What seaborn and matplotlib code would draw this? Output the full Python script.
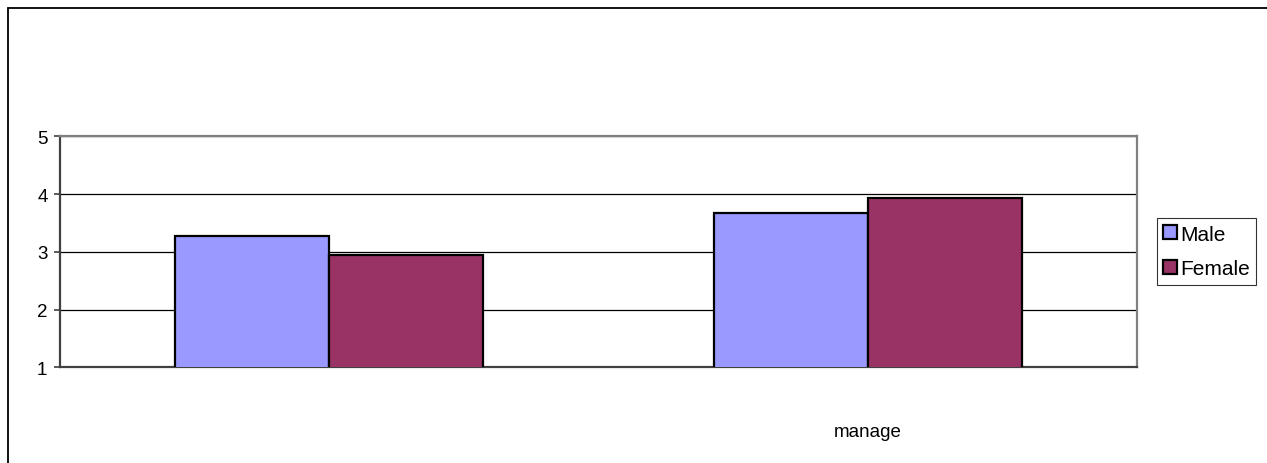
import matplotlib
matplotlib.use("Agg")
import matplotlib.pyplot as plt
from matplotlib.lines import Line2D
from matplotlib.patches import Patch
import seaborn as sns
import pandas as pd

# data
categories = ["", "manage"]
genders = ["Male", "Female"]
male_vals = [3.27, 3.68]
female_vals = [2.94, 3.93]
y_ticks = [1, 2, 3, 4, 5]

colors = {"Male": "#9999FF", "Female": "#993366"}

df = pd.DataFrame({
    "category": categories * 2,
    "gender": ["Male"] * len(categories) + ["Female"] * len(categories),
    "value": male_vals + female_vals,
})

sns.set_style("white")
plt.rcParams["font.family"] = ["Liberation Sans", "DejaVu Sans"]
plt.rcParams["text.color"] = "black"
plt.rcParams["xtick.labelcolor"] = "black"
plt.rcParams["ytick.labelcolor"] = "black"

W, H = 1267, 464
fig = plt.figure(figsize=(W / 100, H / 100), dpi=100)
ax = fig.add_axes([60 / W, 1 - 368.3 / H, (1137 - 60) / W, (368.3 - 137.3) / H])

sns.barplot(data=df, x="category", y="value", hue="gender", order=categories,
            hue_order=genders, palette=colors, width=0.572, ax=ax,
            edgecolor="black", linewidth=1.6, saturation=1, legend=False,
            errorbar=None, zorder=3)

ax.set_ylim(1, 5)
ax.set_xlim(-0.5, 1.5)
ax.set_yticks(y_ticks)
ax.yaxis.grid(True, color="black", linewidth=0.9, zorder=0)
ax.set_axisbelow(True)
ax.set_xlabel("")
ax.set_ylabel("")

# category labels, with boundary ticks between groups
ax.set_xticks([0, 1])
ax.set_xticklabels(categories)
ax.tick_params(axis="x", which="major", length=0, pad=40, labelsize=13.5)
ax.set_xticks([-0.5, 0.5, 1.5], minor=True)
ax.tick_params(axis="x", which="minor", length=4, width=1.2, color="#202020", direction="out")
ax.tick_params(axis="y", length=4, width=1.2, color="#404040", direction="out",
               labelsize=13.5, pad=5, left=True)

for side in ["top", "right"]:
    ax.spines[side].set_color("#808080")
    ax.spines[side].set_linewidth(1.6)
for side in ["left", "bottom"]:
    ax.spines[side].set_color("#404040")
    ax.spines[side].set_linewidth(1.6)
    ax.spines[side].set_visible(True)
ax.spines["top"].set_visible(True)
ax.spines["right"].set_visible(True)

handles = [Patch(facecolor=colors[g], edgecolor="black", linewidth=1.6) for g in genders]
leg = fig.legend(handles, genders, loc="center left",
                 bbox_to_anchor=(1157 / W, 1 - 252.5 / H), fontsize=15,
                 frameon=True, fancybox=False, edgecolor="black",
                 handlelength=0.65, handleheight=0.65, handletextpad=0.15,
                 borderpad=0.3, labelspacing=0.75, borderaxespad=0)
leg.get_frame().set_linewidth(0.8)

# outer chart border (top and left edges visible)
fig.add_artist(Line2D([8 / W, 1], [1 - 9 / H, 1 - 9 / H], color="black", linewidth=1.3,
                      transform=fig.transFigure))
fig.add_artist(Line2D([8 / W, 8 / W], [0, 1 - 9 / H], color="black", linewidth=1.3,
                      transform=fig.transFigure))

fig.savefig("out.png", dpi=100)
